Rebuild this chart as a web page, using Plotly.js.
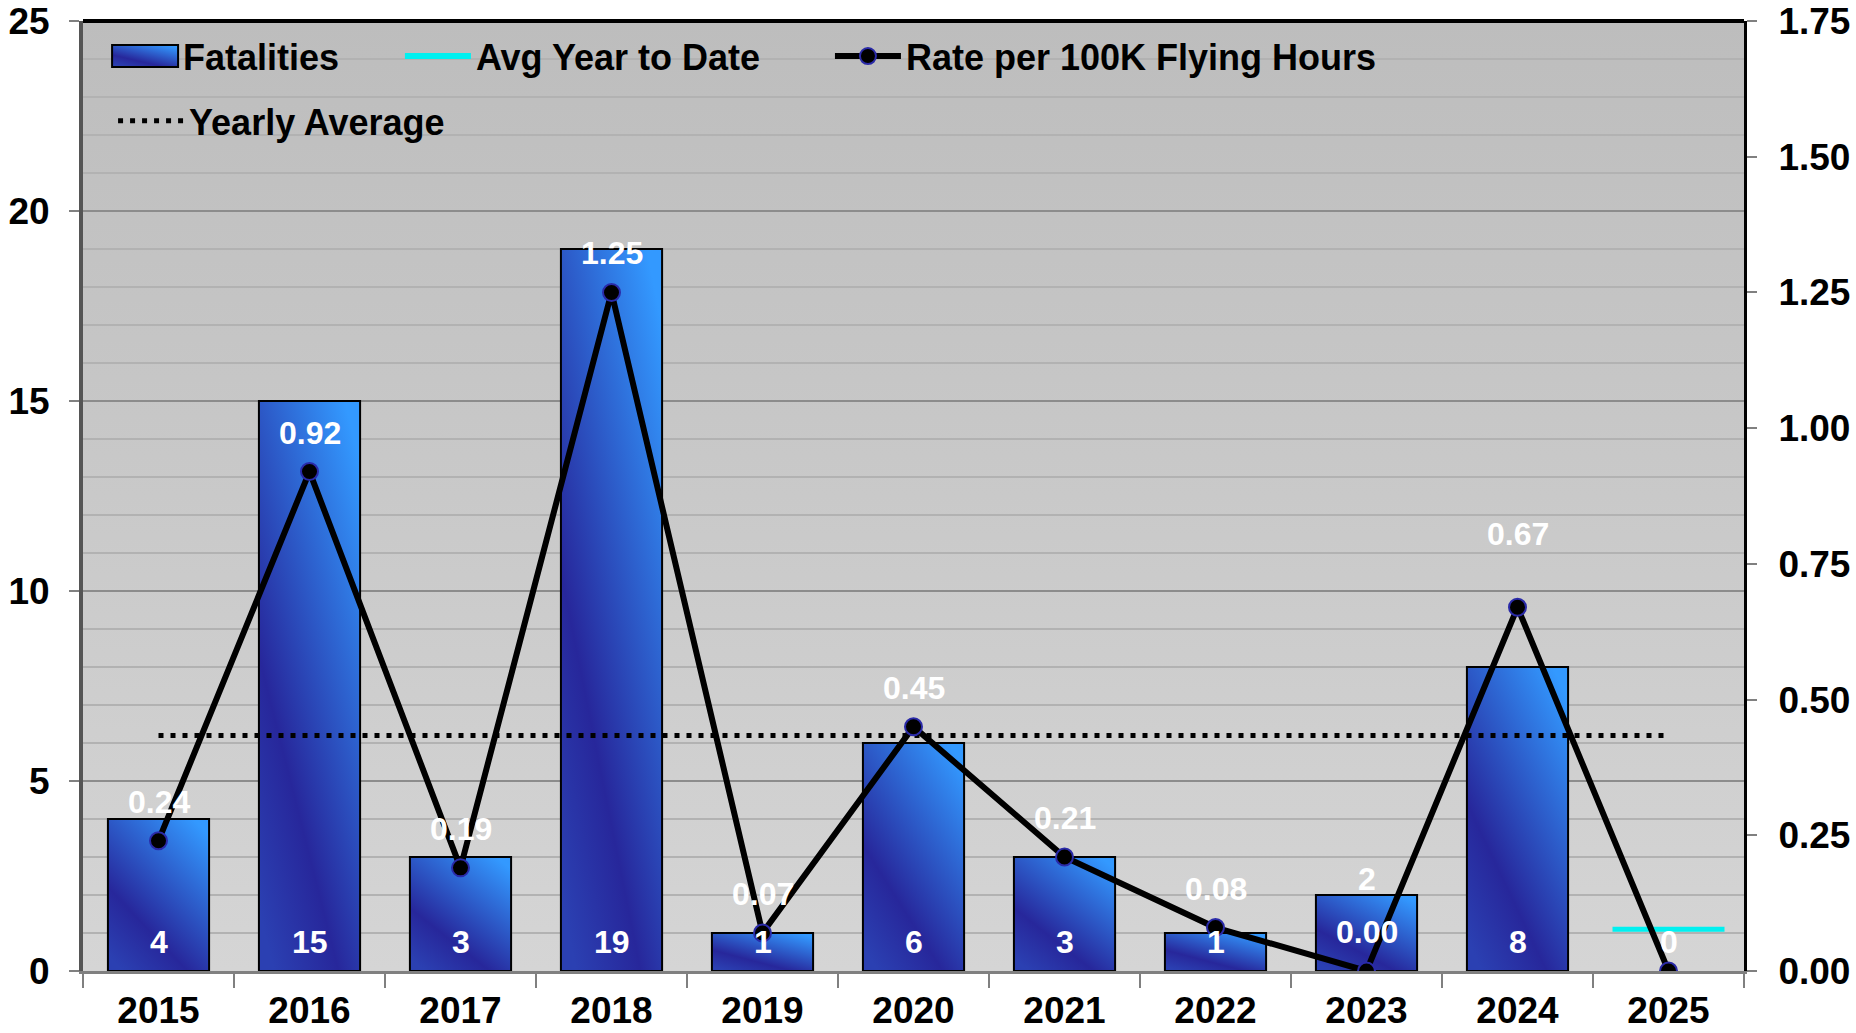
<!DOCTYPE html>
<html><head><meta charset="utf-8">
<script src="https://cdn.plot.ly/plotly-3.0.1.min.js"></script>
<style>
html,body{margin:0;padding:0;background:#fff;}
#chart{width:1856px;height:1033px;}
#chart .bglayer rect.bg{fill:url(#bgGrad) !important;}
#chart .barlayer .trace.bars .point path{fill:url(#barGrad) !important;}
</style></head>
<body>
<svg width="0" height="0" style="position:absolute">
<defs>
<linearGradient id="bgGrad" x1="0" y1="0" x2="0" y2="1">
<stop offset="0" stop-color="#bdbdbd"/><stop offset="1" stop-color="#d5d5d5"/>
</linearGradient>
<linearGradient id="barGrad" x1="0.15" y1="1" x2="0.85" y2="0">
<stop offset="0" stop-color="#2b40b2"/><stop offset="0.3" stop-color="#27279b"/><stop offset="1" stop-color="#3399ff"/>
</linearGradient>
</defs></svg>
<div id="chart"></div>
<script>
// ---- data ----
const years = ['2015','2016','2017','2018','2019','2020','2021','2022','2023','2024','2025'];
const fatalities = [4, 15, 3, 19, 1, 6, 3, 1, 2, 8, 0];
const fatalityLabels = ['4','15','3','19','1','6','3','1','2','8','0'];
const ratePer100K = [0.24, 0.92, 0.19, 1.25, 0.07, 0.45, 0.21, 0.08, 0.00, 0.67, 0.00];
const rateLabels = ['0.24','0.92','0.19','1.25','0.07','0.45','0.21','0.08','0.00','0.67',''];
const yearlyAverage = [6.2, 6.2, 6.2, 6.2, 6.2, 6.2, 6.2, 6.2, 6.2, 6.2, 6.2];
const avgYtdYears = ['2025'];
const avgYearToDate = [1.1];
const leftTicks = [0, 5, 10, 15, 20, 25];
const rightTicks = [0, 0.25, 0.5, 0.75, 1.0, 1.25, 1.5, 1.75];

// ---- styling ----
const FONT = 'Liberation Sans, Arial, sans-serif';
const tickFont = {family: FONT, size: 37, color: '#000', weight: 700};
const legFont = {family: FONT, size: 36, color: '#000', weight: 700};
const labFont = {family: FONT, size: 32, color: '#fff', weight: 700};

const traces = [
  {type: 'bar', x: years, y: fatalities, name: 'Fatalities', legend: 'legend',
   marker: {color: '#2d4fc4', line: {color: '#000', width: fatalities.map(v => v > 0 ? 2 : 0)}}, hoverinfo: 'skip'},
  {type: 'scatter', x: avgYtdYears, y: avgYearToDate, name: 'Avg Year to Date', legend: 'legend2',
   mode: 'lines+markers', line: {color: '#00f0f0', width: 6},
   marker: {symbol: 'line-ew', size: 80, color: '#00f0f0', line: {color: '#00f0f0', width: 5}}, hoverinfo: 'skip'},
  {type: 'scatter', x: years, y: ratePer100K, yaxis: 'y2', name: 'Rate per 100K Flying Hours', legend: 'legend3',
   mode: 'lines+markers', line: {color: '#000', width: 6},
   marker: {symbol: 'circle', size: 17, color: '#000', line: {color: '#2a2aa8', width: 2}}, hoverinfo: 'skip'},
  {type: 'scatter', x: years, y: yearlyAverage, name: 'Yearly Average', legend: 'legend4',
   mode: 'lines', line: {color: '#000', width: 5, dash: '5px,7px'}, hoverinfo: 'skip'}
];

const annotations = [];
years.forEach((yr, i) => {
  if (rateLabels[i]) {
    annotations.push({x: i, y: ratePer100K[i], xref: 'x', yref: 'y2', text: rateLabels[i],
      showarrow: false, yshift: yr === '2024' ? 73 : 39, font: labFont});
  }
  const outside = yr === '2023';
  annotations.push({x: i, y: outside ? fatalities[i] : 0, xref: 'x', yref: 'y', text: fatalityLabels[i],
    showarrow: false, yshift: outside ? 16 : 29, font: labFont});
});

function leg(x, y) {
  return {x: x, y: y, xanchor: 'left', yanchor: 'middle', orientation: 'h',
    bgcolor: 'rgba(0,0,0,0)', font: legFont, itemwidth: 66, itemclick: false, itemdoubleclick: false};
}

const layout = {
  width: 1856, height: 1033,
  margin: {l: 83, r: 112, t: 21, b: 62},
  paper_bgcolor: '#fff', plot_bgcolor: '#c8c8c8',
  bargap: 0.33,
  showlegend: true,
  legend: leg(0.0145, 0.963),
  legend2: leg(0.1908, 0.963),
  legend3: leg(0.4497, 0.963),
  legend4: leg(0.0181, 0.895),
  xaxis: {type: 'category', range: [-0.5, 10.5], ticks: 'outside', tickson: 'boundaries',
    ticklen: 14, tickwidth: 2, tickcolor: '#808080', showline: true, linecolor: '#808080', linewidth: 3,
    showgrid: false, tickfont: tickFont, ticklabelstandoff: 5, fixedrange: true},
  yaxis: {range: [0, 25], tickvals: leftTicks, ticks: 'outside', ticklen: 10, tickwidth: 2, tickcolor: '#808080',
    showline: true, linecolor: '#555', linewidth: 4, showgrid: true, gridcolor: '#8c8c8c', gridwidth: 2,
    minor: {dtick: 1, showgrid: true, gridcolor: '#b2b2b2', gridwidth: 2, ticks: ''},
    zeroline: false, tickfont: tickFont, ticklabelstandoff: 12, fixedrange: true},
  yaxis2: {overlaying: 'y', side: 'right', range: [0, 1.75], tickvals: rightTicks, tickformat: '.2f',
    ticks: 'outside', ticklen: 10, tickwidth: 2, tickcolor: '#808080', showline: true, linecolor: '#000', linewidth: 3,
    showgrid: false, zeroline: false, tickfont: tickFont, ticklabelstandoff: 14, fixedrange: true},
  shapes: [{type: 'line', xref: 'paper', yref: 'paper', x0: 0, x1: 1, y0: 1, y1: 1, line: {color: '#000', width: 4}}],
  annotations: annotations
};

Plotly.newPlot('chart', traces, layout, {displayModeBar: false, staticPlot: true}).then(gd => {
  gd.querySelectorAll('.legendpoints path').forEach(p => {
    const d = p.getAttribute('d') || '';
    if (/^M6,6H-6V-6H6Z$/.test(d.replace(/\s/g, ''))) {
      p.setAttribute('d', 'M33,11H-33V-11H33Z');
      p.style.fill = 'url(#barGrad)';
      p.style.stroke = '#000';
      p.style.strokeWidth = '2px';
    }
  });
});
</script>
</body></html>
